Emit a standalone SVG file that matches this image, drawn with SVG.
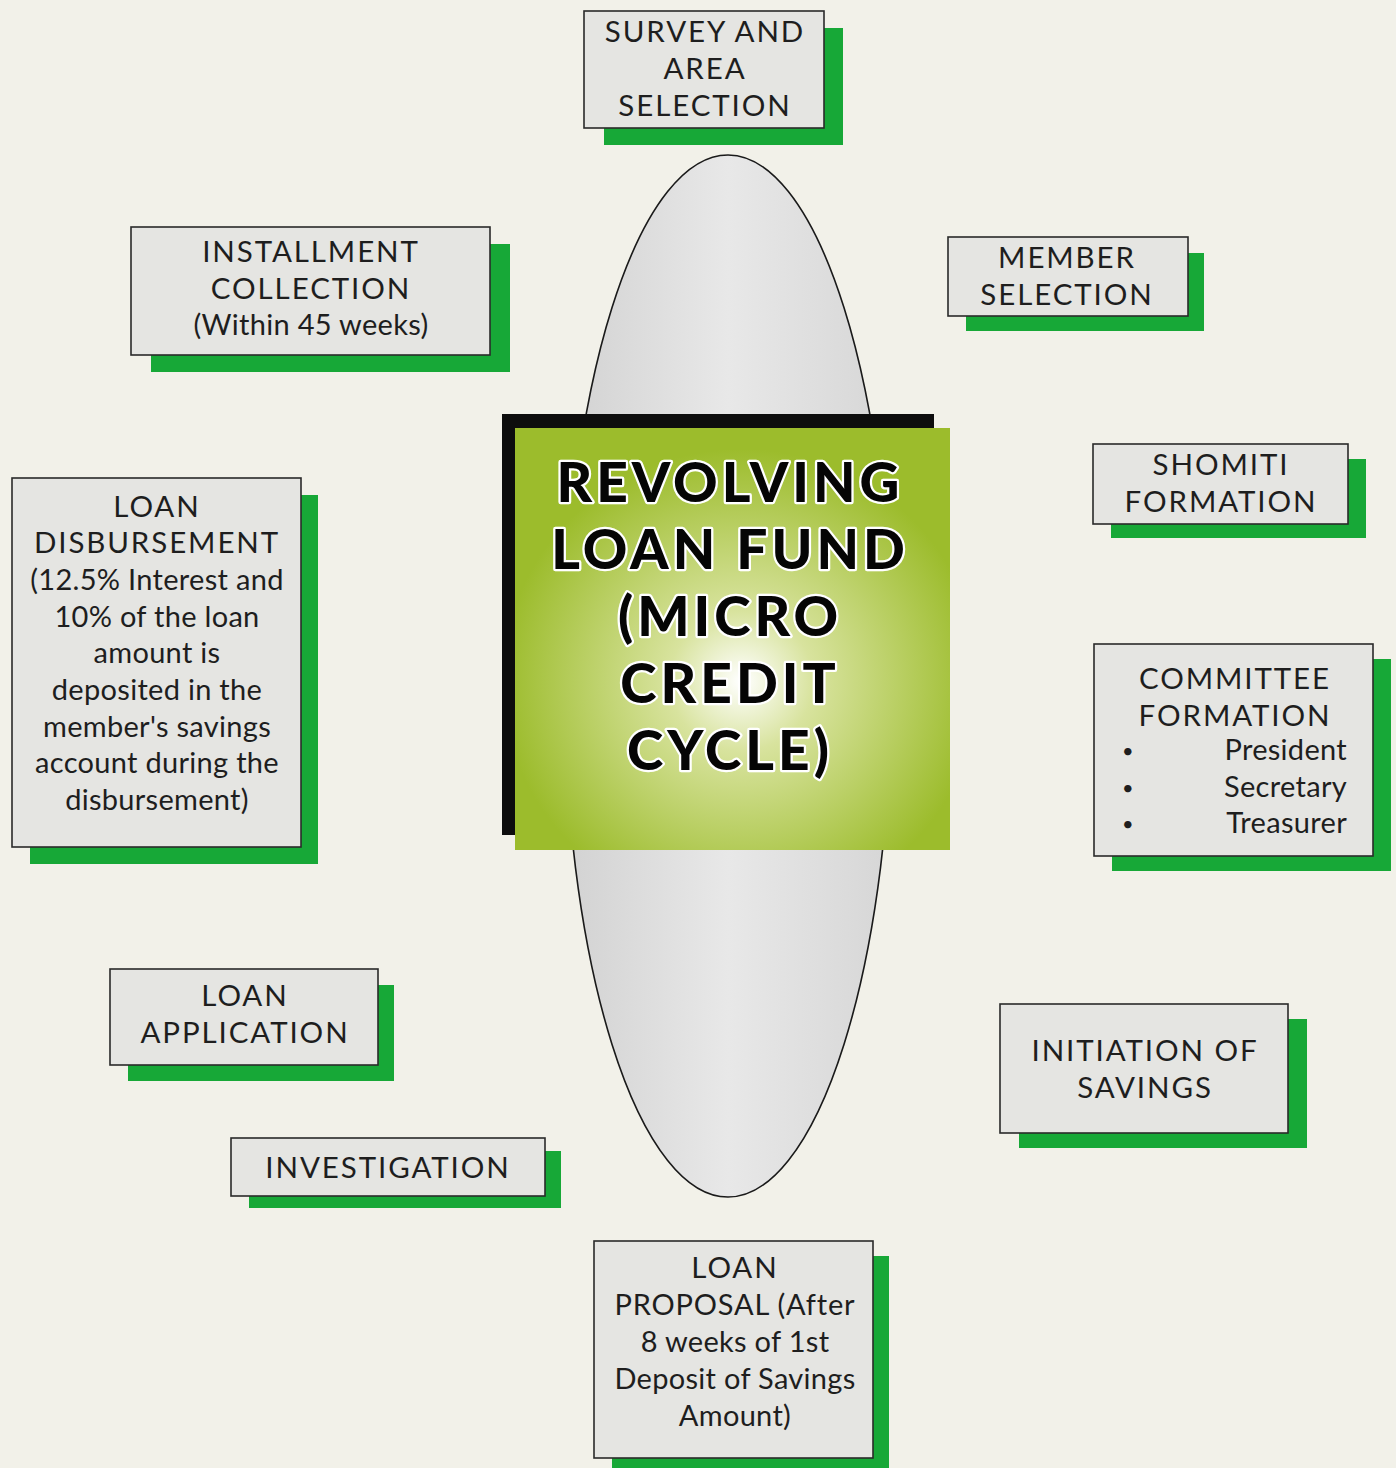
<svg xmlns="http://www.w3.org/2000/svg" width="1396" height="1468" viewBox="0 0 1396 1468">
<style>
.box{fill:#e5e5e2;stroke:#2a2a2a;stroke-width:1.6}
.sh{fill:#17a837}
.t{font-family:Lato,"Open Sans",sans-serif;font-size:29px;letter-spacing:0.3px;fill:#1e1e1e;text-anchor:middle}
.u{font-size:29.5px;letter-spacing:1.9px}
.m{font-size:29px;letter-spacing:0.8px}
.b{font-size:20px}
.c{font-family:Lato,"Open Sans",sans-serif;font-weight:900;font-size:55px;letter-spacing:4px;fill:#050505;text-anchor:middle;stroke:#ffffff;stroke-width:4.5;paint-order:stroke;stroke-linejoin:round}
</style>
<defs>
<radialGradient id="gg" cx="0.52" cy="0.6" r="0.55">
<stop offset="0" stop-color="#ffffff"/>
<stop offset="0.3" stop-color="#d8e39e"/>
<stop offset="1" stop-color="#9cbc2c"/>
</radialGradient>
<linearGradient id="eg" x1="0" y1="0" x2="1" y2="0">
<stop offset="0" stop-color="#d2d2d2"/>
<stop offset="0.5" stop-color="#e8e8e8"/>
<stop offset="1" stop-color="#d6d6d6"/>
</linearGradient>
</defs>
<rect x="0" y="0" width="1396" height="1468" fill="#f2f1e9"/>
<g id="connectors">
<ellipse cx="728" cy="676" rx="164" ry="521" fill="url(#eg)" stroke="#1a1a1a" stroke-width="1.6"/>
</g>
<g id="center">
<rect x="502" y="414" width="432" height="421" fill="#0d0d0d"/>
<rect x="515" y="428" width="435" height="422" fill="url(#gg)"/>
<text class="c" x="730" y="502">REVOLVING</text>
<text class="c" x="730" y="569">LOAN FUND</text>
<text class="c" x="730" y="636">(MICRO</text>
<text class="c" x="730" y="703">CREDIT</text>
<text class="c" x="730" y="770">CYCLE)</text>
</g>
<g id="survey">
<rect class="sh" x="604" y="28" width="239" height="117"/>
<rect class="box" x="584" y="11" width="240" height="117"/>
<text class="t u" x="705" y="42">SURVEY AND</text>
<text class="t u" x="705" y="79">AREA</text>
<text class="t u" x="705" y="116">SELECTION</text>
</g>
<g id="installment">
<rect class="sh" x="151" y="244" width="359" height="128"/>
<rect class="box" x="131" y="227" width="359" height="128"/>
<text class="t u" x="311" y="262">INSTALLMENT</text>
<text class="t u" x="311" y="299">COLLECTION</text>
<text class="t" x="311" y="335">(Within 45 weeks)</text>
</g>
<g id="member">
<rect class="sh" x="966" y="253" width="238" height="78"/>
<rect class="box" x="948" y="237" width="240" height="79"/>
<text class="t u" x="1067" y="268">MEMBER</text>
<text class="t u" x="1067" y="305">SELECTION</text>
</g>
<g id="shomiti">
<rect class="sh" x="1111" y="459" width="255" height="79"/>
<rect class="box" x="1093" y="444" width="255" height="80"/>
<text class="t u" x="1221" y="475">SHOMITI</text>
<text class="t u" x="1221" y="512">FORMATION</text>
</g>
<g id="committee">
<rect class="sh" x="1112" y="659" width="279" height="212"/>
<rect class="box" x="1094" y="644" width="279" height="212"/>
<text class="t u" x="1235" y="689">COMMITTEE</text>
<text class="t u" x="1235" y="726">FORMATION</text>
<text class="t b" x="1128" y="758">•</text>
<text class="t b" x="1128" y="795">•</text>
<text class="t b" x="1128" y="831">•</text>
<text class="t" x="1347" y="760" style="text-anchor:end">President</text>
<text class="t" x="1347" y="797" style="text-anchor:end">Secretary</text>
<text class="t" x="1347" y="833" style="text-anchor:end">Treasurer</text>
</g>
<g id="disbursement">
<rect class="sh" x="30" y="495" width="288" height="369"/>
<rect class="box" x="12" y="478" width="289" height="369"/>
<text class="t u" x="157" y="517">LOAN</text>
<text class="t u" x="157" y="553">DISBURSEMENT</text>
<text class="t" x="157" y="590">(12.5% Interest and</text>
<text class="t" x="157" y="627">10% of the loan</text>
<text class="t" x="157" y="663">amount is</text>
<text class="t" x="157" y="700">deposited in the</text>
<text class="t" x="157" y="737">member's savings</text>
<text class="t" x="157" y="773">account during the</text>
<text class="t" x="157" y="810">disbursement)</text>
</g>
<g id="application">
<rect class="sh" x="128" y="985" width="266" height="96"/>
<rect class="box" x="110" y="969" width="268" height="96"/>
<text class="t u" x="245" y="1006">LOAN</text>
<text class="t u" x="245" y="1043">APPLICATION</text>
</g>
<g id="initiation">
<rect class="sh" x="1019" y="1019" width="288" height="129"/>
<rect class="box" x="1000" y="1004" width="288" height="129"/>
<text class="t u" x="1145" y="1061">INITIATION OF</text>
<text class="t u" x="1145" y="1098">SAVINGS</text>
</g>
<g id="investigation">
<rect class="sh" x="249" y="1151" width="312" height="57"/>
<rect class="box" x="231" y="1138" width="314" height="58"/>
<text class="t u" x="388" y="1178">INVESTIGATION</text>
</g>
<g id="proposal">
<rect class="sh" x="612" y="1256" width="277" height="212"/>
<rect class="box" x="594" y="1241" width="279" height="217"/>
<text class="t u" x="735" y="1278">LOAN</text>
<text class="t m" x="735" y="1315">PROPOSAL (After</text>
<text class="t" x="735" y="1352">8 weeks of 1st</text>
<text class="t" x="735" y="1389">Deposit of Savings</text>
<text class="t" x="735" y="1426">Amount)</text>
</g>
</svg>
